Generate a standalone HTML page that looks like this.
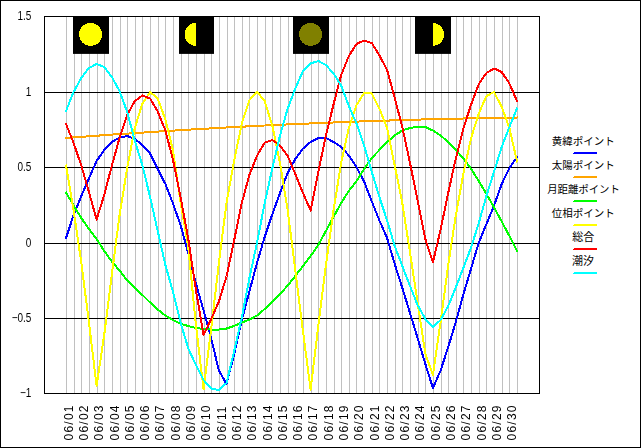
<!DOCTYPE html>
<html><head><meta charset="utf-8"><title>chart</title>
<style>
html,body{margin:0;padding:0;background:#fff;}
body{width:641px;height:448px;overflow:hidden;font-family:"Liberation Sans",sans-serif;}
svg{display:block;}
text{font-family:"Liberation Sans",sans-serif;fill:#000;}
text.lg{font-family:"Liberation Sans","Noto Sans CJK JP",sans-serif;}
</style></head><body>
<svg width="641" height="448" viewBox="0 0 641 448">
<rect x="0" y="0" width="641" height="448" fill="#fff"/>

<g shape-rendering="crispEdges">
<rect x="0.5" y="0.5" width="640" height="447" fill="none" stroke="#000" stroke-width="1"/>
<rect x="66" y="17" width="1" height="376" fill="#c0c0c0"/>
<rect x="74" y="17" width="1" height="376" fill="#c0c0c0"/>
<rect x="81" y="17" width="1" height="376" fill="#c0c0c0"/>
<rect x="89" y="17" width="1" height="376" fill="#c0c0c0"/>
<rect x="97" y="17" width="1" height="376" fill="#c0c0c0"/>
<rect x="104" y="17" width="1" height="376" fill="#c0c0c0"/>
<rect x="112" y="17" width="1" height="376" fill="#c0c0c0"/>
<rect x="120" y="17" width="1" height="376" fill="#c0c0c0"/>
<rect x="127" y="17" width="1" height="376" fill="#c0c0c0"/>
<rect x="135" y="17" width="1" height="376" fill="#c0c0c0"/>
<rect x="142" y="17" width="1" height="376" fill="#c0c0c0"/>
<rect x="150" y="17" width="1" height="376" fill="#c0c0c0"/>
<rect x="158" y="17" width="1" height="376" fill="#c0c0c0"/>
<rect x="165" y="17" width="1" height="376" fill="#c0c0c0"/>
<rect x="173" y="17" width="1" height="376" fill="#c0c0c0"/>
<rect x="181" y="17" width="1" height="376" fill="#c0c0c0"/>
<rect x="188" y="17" width="1" height="376" fill="#c0c0c0"/>
<rect x="196" y="17" width="1" height="376" fill="#c0c0c0"/>
<rect x="204" y="17" width="1" height="376" fill="#c0c0c0"/>
<rect x="211" y="17" width="1" height="376" fill="#c0c0c0"/>
<rect x="219" y="17" width="1" height="376" fill="#c0c0c0"/>
<rect x="227" y="17" width="1" height="376" fill="#c0c0c0"/>
<rect x="234" y="17" width="1" height="376" fill="#c0c0c0"/>
<rect x="242" y="17" width="1" height="376" fill="#c0c0c0"/>
<rect x="249" y="17" width="1" height="376" fill="#c0c0c0"/>
<rect x="257" y="17" width="1" height="376" fill="#c0c0c0"/>
<rect x="265" y="17" width="1" height="376" fill="#c0c0c0"/>
<rect x="272" y="17" width="1" height="376" fill="#c0c0c0"/>
<rect x="280" y="17" width="1" height="376" fill="#c0c0c0"/>
<rect x="288" y="17" width="1" height="376" fill="#c0c0c0"/>
<rect x="295" y="17" width="1" height="376" fill="#c0c0c0"/>
<rect x="303" y="17" width="1" height="376" fill="#c0c0c0"/>
<rect x="311" y="17" width="1" height="376" fill="#c0c0c0"/>
<rect x="318" y="17" width="1" height="376" fill="#c0c0c0"/>
<rect x="326" y="17" width="1" height="376" fill="#c0c0c0"/>
<rect x="334" y="17" width="1" height="376" fill="#c0c0c0"/>
<rect x="341" y="17" width="1" height="376" fill="#c0c0c0"/>
<rect x="349" y="17" width="1" height="376" fill="#c0c0c0"/>
<rect x="356" y="17" width="1" height="376" fill="#c0c0c0"/>
<rect x="364" y="17" width="1" height="376" fill="#c0c0c0"/>
<rect x="372" y="17" width="1" height="376" fill="#c0c0c0"/>
<rect x="379" y="17" width="1" height="376" fill="#c0c0c0"/>
<rect x="387" y="17" width="1" height="376" fill="#c0c0c0"/>
<rect x="395" y="17" width="1" height="376" fill="#c0c0c0"/>
<rect x="402" y="17" width="1" height="376" fill="#c0c0c0"/>
<rect x="410" y="17" width="1" height="376" fill="#c0c0c0"/>
<rect x="418" y="17" width="1" height="376" fill="#c0c0c0"/>
<rect x="425" y="17" width="1" height="376" fill="#c0c0c0"/>
<rect x="433" y="17" width="1" height="376" fill="#c0c0c0"/>
<rect x="441" y="17" width="1" height="376" fill="#c0c0c0"/>
<rect x="448" y="17" width="1" height="376" fill="#c0c0c0"/>
<rect x="456" y="17" width="1" height="376" fill="#c0c0c0"/>
<rect x="463" y="17" width="1" height="376" fill="#c0c0c0"/>
<rect x="471" y="17" width="1" height="376" fill="#c0c0c0"/>
<rect x="479" y="17" width="1" height="376" fill="#c0c0c0"/>
<rect x="486" y="17" width="1" height="376" fill="#c0c0c0"/>
<rect x="494" y="17" width="1" height="376" fill="#c0c0c0"/>
<rect x="502" y="17" width="1" height="376" fill="#c0c0c0"/>
<rect x="509" y="17" width="1" height="376" fill="#c0c0c0"/>
<rect x="517" y="17" width="1" height="376" fill="#c0c0c0"/>
<rect x="45" y="92" width="494" height="1" fill="#000"/>
<rect x="45" y="167" width="494" height="1" fill="#000"/>
<rect x="45" y="243" width="494" height="1" fill="#000"/>
<rect x="45" y="318" width="494" height="1" fill="#000"/>
<rect x="44.5" y="16.5" width="495" height="377" fill="none" stroke="#000" stroke-width="1"/>
</g>
<rect x="73" y="16" width="36" height="37.9" fill="#000"/>
<circle cx="90.6" cy="34.4" r="11.5" fill="#ffff00" shape-rendering="crispEdges"/>
<rect x="179" y="16" width="35" height="37.9" fill="#000"/>
<path d="M196.1,22.9 A11.5,11.5 0 0 0 196.1,45.9 Z" fill="#ffff00" shape-rendering="crispEdges"/>
<rect x="293" y="16" width="36" height="37.9" fill="#000"/>
<circle cx="310.6" cy="34.4" r="11.5" fill="#808000" shape-rendering="crispEdges"/>
<rect x="415" y="16" width="36" height="37.9" fill="#000"/>
<path d="M432.6,22.9 A11.5,11.5 0 0 1 432.6,45.9 Z" fill="#ffff00" shape-rendering="crispEdges"/>
<polyline points="66.0,238.0 73.6,215.0 81.3,196.0 88.9,178.5 96.6,161.0 104.2,150.0 111.9,142.0 119.5,137.5 127.2,136.0 134.8,139.0 142.4,145.0 150.1,153.5 157.7,169.0 165.4,184.0 173.0,203.5 180.7,225.5 188.3,253.5 195.9,283.5 203.6,310.5 211.2,338.5 218.9,370.6 226.5,384.0 234.2,354.0 241.8,320.0 249.5,291.0 257.1,262.5 264.7,237.0 272.4,214.0 280.0,193.0 287.7,173.0 295.3,159.0 303.0,148.5 310.6,142.0 318.3,138.0 325.9,138.0 333.5,142.0 341.2,147.0 348.8,155.5 356.5,167.0 364.1,181.5 371.8,201.5 379.4,220.5 387.1,238.0 394.7,264.0 402.3,288.0 410.0,313.0 417.6,338.0 425.3,364.0 432.9,388.0 440.6,370.6 448.2,347.0 455.8,322.0 463.5,294.0 471.1,268.5 478.8,242.5 486.4,224.0 494.1,205.5 501.7,184.0 509.4,168.0 517.0,157.0" fill="none" stroke="#0000ff" stroke-width="2" stroke-linejoin="round" stroke-linecap="square" shape-rendering="crispEdges"/>
<polyline points="66.0,138.0 73.6,137.4 81.3,136.8 88.9,136.3 96.6,135.7 104.2,135.2 111.9,134.6 119.5,134.1 127.2,133.6 134.8,133.1 142.4,132.6 150.1,132.1 157.7,131.6 165.4,131.1 173.0,130.6 180.7,130.2 188.3,129.7 195.9,129.2 203.6,128.8 211.2,128.4 218.9,127.9 226.5,127.5 234.2,127.1 241.8,126.7 249.5,126.3 257.1,125.9 264.7,125.5 272.4,125.2 280.0,124.8 287.7,124.4 295.3,124.1 303.0,123.8 310.6,123.4 318.3,123.1 325.9,122.8 333.5,122.5 341.2,122.2 348.8,121.9 356.5,121.6 364.1,121.3 371.8,121.1 379.4,120.8 387.1,120.6 394.7,120.3 402.3,120.1 410.0,119.8 417.6,119.6 425.3,119.4 432.9,119.2 440.6,119.0 448.2,118.8 455.8,118.7 463.5,118.5 471.1,118.3 478.8,118.2 486.4,118.0 494.1,117.9 501.7,117.7 509.4,117.6 517.0,117.5" fill="none" stroke="#ffa500" stroke-width="2" stroke-linejoin="round" stroke-linecap="square" shape-rendering="crispEdges"/>
<polyline points="66.0,192.5 73.6,205.5 81.3,218.0 88.9,229.0 96.6,239.0 104.2,251.0 111.9,261.5 119.5,270.5 127.2,280.5 134.8,288.0 142.4,295.0 150.1,302.5 157.7,309.5 165.4,315.5 173.0,320.0 180.7,324.0 188.3,326.0 195.9,328.0 203.6,329.0 211.2,329.5 218.9,329.5 226.5,328.5 234.2,326.0 241.8,322.5 249.5,319.5 257.1,315.5 264.7,309.0 272.4,302.0 280.0,294.0 287.7,285.5 295.3,276.0 303.0,266.0 310.6,256.0 318.3,245.0 325.9,231.0 333.5,217.0 341.2,203.0 348.8,191.0 356.5,181.0 364.1,169.0 371.8,158.0 379.4,150.0 387.1,142.2 394.7,135.5 402.3,130.5 410.0,128.0 417.6,126.8 425.3,127.0 432.9,130.5 440.6,135.5 448.2,142.0 455.8,149.8 463.5,158.8 471.1,168.8 478.8,181.2 486.4,193.8 494.1,207.5 501.7,221.5 509.4,236.0 517.0,251.0" fill="none" stroke="#00ff00" stroke-width="2" stroke-linejoin="round" stroke-linecap="square" shape-rendering="crispEdges"/>
<polyline points="66.0,165.5 73.6,210.5 81.3,262.5 88.9,322.0 96.6,386.0 104.2,335.0 111.9,274.0 119.5,215.5 127.2,168.0 134.8,128.0 142.4,103.5 150.1,92.0 157.7,98.5 165.4,119.5 173.0,150.5 180.7,203.0 188.3,247.5 195.9,325.0 203.6,389.4 211.2,329.0 218.9,262.5 226.5,203.0 234.2,160.5 241.8,123.5 249.5,100.0 257.1,92.0 264.7,101.0 272.4,126.0 280.0,163.0 287.7,210.5 295.3,270.0 303.0,331.5 310.6,389.5 318.3,326.0 325.9,265.0 333.5,210.5 341.2,162.5 348.8,128.0 356.5,105.0 364.1,93.0 371.8,93.5 379.4,108.5 387.1,128.0 394.7,165.5 402.3,203.0 410.0,252.5 417.6,302.5 425.3,353.5 432.9,375.0 440.6,322.0 448.2,265.0 455.8,215.5 463.5,173.0 471.1,138.0 478.8,113.5 486.4,96.0 494.1,92.0 501.7,107.0 509.4,128.0 517.0,161.5" fill="none" stroke="#ffff00" stroke-width="2" stroke-linejoin="round" stroke-linecap="square" shape-rendering="crispEdges"/>
<polyline points="66.0,124.0 73.6,143.0 81.3,165.5 88.9,192.0 96.6,219.5 104.2,195.0 111.9,165.5 119.5,138.0 127.2,115.0 134.8,101.0 142.4,95.5 150.1,98.5 157.7,111.5 165.4,130.5 173.0,160.0 180.7,198.0 188.3,239.0 195.9,290.0 203.6,335.0 211.2,319.0 218.9,301.5 226.5,276.5 234.2,240.0 241.8,203.0 249.5,174.5 257.1,155.5 264.7,142.5 272.4,140.0 280.0,145.5 287.7,156.0 295.3,174.0 303.0,193.0 310.6,210.5 318.3,172.0 325.9,135.5 333.5,104.5 341.2,75.0 348.8,56.0 356.5,44.0 364.1,40.5 371.8,43.0 379.4,55.5 387.1,70.0 394.7,98.0 402.3,127.0 410.0,163.0 417.6,200.5 425.3,239.0 432.9,262.5 440.6,229.5 448.2,193.0 455.8,158.5 463.5,128.0 471.1,104.5 478.8,84.0 486.4,73.0 494.1,68.5 501.7,72.0 509.4,83.5 517.0,101.0" fill="none" stroke="#ff0000" stroke-width="2" stroke-linejoin="round" stroke-linecap="square" shape-rendering="crispEdges"/>
<polyline points="66.0,111.0 73.6,92.0 81.3,78.0 88.9,68.0 96.6,64.0 104.2,67.0 111.9,77.0 119.5,91.0 127.2,112.0 134.8,140.5 142.4,165.5 150.1,197.0 157.7,231.0 165.4,265.0 173.0,292.0 180.7,323.0 188.3,348.5 195.9,365.0 203.6,380.0 211.2,388.5 218.9,390.0 226.5,383.0 234.2,351.0 241.8,317.5 249.5,277.5 257.1,242.5 264.7,203.0 272.4,168.0 280.0,135.5 287.7,108.5 295.3,88.5 303.0,71.0 310.6,63.5 318.3,61.0 325.9,65.0 333.5,73.5 341.2,85.5 348.8,106.0 356.5,123.5 364.1,145.5 371.8,172.0 379.4,197.0 387.1,220.5 394.7,246.0 402.3,266.0 410.0,286.0 417.6,305.0 425.3,319.0 432.9,327.0 440.6,320.0 448.2,306.0 455.8,287.5 463.5,267.5 471.1,247.5 478.8,223.0 486.4,196.0 494.1,171.5 501.7,147.0 509.4,127.0 517.0,108.5" fill="none" stroke="#00ffff" stroke-width="2" stroke-linejoin="round" stroke-linecap="square" shape-rendering="crispEdges"/>
<g style="opacity:0.999">
<text transform="translate(31.4,20.1) scale(0.8,1)" font-size="12.5" text-anchor="end">1.5</text>
<text transform="translate(31.4,96.1) scale(0.8,1)" font-size="12.5" text-anchor="end">1</text>
<text transform="translate(31.4,171.1) scale(0.8,1)" font-size="12.5" text-anchor="end">0.5</text>
<text transform="translate(31.4,247.1) scale(0.8,1)" font-size="12.5" text-anchor="end">0</text>
<text transform="translate(31.4,322.1) scale(0.8,1)" font-size="12.5" text-anchor="end">−0.5</text>
<text transform="translate(31.4,397.1) scale(0.8,1)" font-size="12.5" text-anchor="end">−1</text>
<text transform="translate(72.7,440.4) rotate(-90)" font-size="12" letter-spacing="1.2">06/01</text>
<text transform="translate(88.0,440.4) rotate(-90)" font-size="12" letter-spacing="1.2">06/02</text>
<text transform="translate(103.3,440.4) rotate(-90)" font-size="12" letter-spacing="1.2">06/03</text>
<text transform="translate(118.6,440.4) rotate(-90)" font-size="12" letter-spacing="1.2">06/04</text>
<text transform="translate(133.9,440.4) rotate(-90)" font-size="12" letter-spacing="1.2">06/05</text>
<text transform="translate(149.2,440.4) rotate(-90)" font-size="12" letter-spacing="1.2">06/06</text>
<text transform="translate(164.4,440.4) rotate(-90)" font-size="12" letter-spacing="1.2">06/07</text>
<text transform="translate(179.7,440.4) rotate(-90)" font-size="12" letter-spacing="1.2">06/08</text>
<text transform="translate(195.0,440.4) rotate(-90)" font-size="12" letter-spacing="1.2">06/09</text>
<text transform="translate(210.3,440.4) rotate(-90)" font-size="12" letter-spacing="1.2">06/10</text>
<text transform="translate(225.6,440.4) rotate(-90)" font-size="12" letter-spacing="1.2">06/11</text>
<text transform="translate(240.9,440.4) rotate(-90)" font-size="12" letter-spacing="1.2">06/12</text>
<text transform="translate(256.2,440.4) rotate(-90)" font-size="12" letter-spacing="1.2">06/13</text>
<text transform="translate(271.5,440.4) rotate(-90)" font-size="12" letter-spacing="1.2">06/14</text>
<text transform="translate(286.8,440.4) rotate(-90)" font-size="12" letter-spacing="1.2">06/15</text>
<text transform="translate(302.1,440.4) rotate(-90)" font-size="12" letter-spacing="1.2">06/16</text>
<text transform="translate(317.3,440.4) rotate(-90)" font-size="12" letter-spacing="1.2">06/17</text>
<text transform="translate(332.6,440.4) rotate(-90)" font-size="12" letter-spacing="1.2">06/18</text>
<text transform="translate(347.9,440.4) rotate(-90)" font-size="12" letter-spacing="1.2">06/19</text>
<text transform="translate(363.2,440.4) rotate(-90)" font-size="12" letter-spacing="1.2">06/20</text>
<text transform="translate(378.5,440.4) rotate(-90)" font-size="12" letter-spacing="1.2">06/21</text>
<text transform="translate(393.8,440.4) rotate(-90)" font-size="12" letter-spacing="1.2">06/22</text>
<text transform="translate(409.1,440.4) rotate(-90)" font-size="12" letter-spacing="1.2">06/23</text>
<text transform="translate(424.4,440.4) rotate(-90)" font-size="12" letter-spacing="1.2">06/24</text>
<text transform="translate(439.7,440.4) rotate(-90)" font-size="12" letter-spacing="1.2">06/25</text>
<text transform="translate(454.9,440.4) rotate(-90)" font-size="12" letter-spacing="1.2">06/26</text>
<text transform="translate(470.2,440.4) rotate(-90)" font-size="12" letter-spacing="1.2">06/27</text>
<text transform="translate(485.5,440.4) rotate(-90)" font-size="12" letter-spacing="1.2">06/28</text>
<text transform="translate(500.8,440.4) rotate(-90)" font-size="12" letter-spacing="1.2">06/29</text>
<text transform="translate(516.1,440.4) rotate(-90)" font-size="12" letter-spacing="1.2">06/30</text>
</g>
<text class="lg" x="583.2" y="145" font-size="10.5" text-anchor="middle">黄緯ポイント</text>
<path d="M574,152h23v2h-24v-1h1z" fill="#0000ff" shape-rendering="crispEdges"/>
<text class="lg" x="583.2" y="169" font-size="10.5" text-anchor="middle">太陽ポイント</text>
<path d="M574,176h23v2h-24v-1h1z" fill="#ffa500" shape-rendering="crispEdges"/>
<text class="lg" x="583.5" y="193" font-size="10.4" text-anchor="middle">月距離ポイント</text>
<path d="M574,200h23v2h-24v-1h1z" fill="#00ff00" shape-rendering="crispEdges"/>
<text class="lg" x="583.2" y="217" font-size="10.5" text-anchor="middle">位相ポイント</text>
<path d="M574,224h23v2h-24v-1h1z" fill="#ffff00" shape-rendering="crispEdges"/>
<text class="lg" x="583.3" y="241" font-size="11" text-anchor="middle">総合</text>
<path d="M574,248h23v2h-24v-1h1z" fill="#ff0000" shape-rendering="crispEdges"/>
<text class="lg" x="583.1" y="265" font-size="11" text-anchor="middle">潮汐</text>
<path d="M574,272h23v2h-24v-1h1z" fill="#00ffff" shape-rendering="crispEdges"/>
</svg></body></html>
